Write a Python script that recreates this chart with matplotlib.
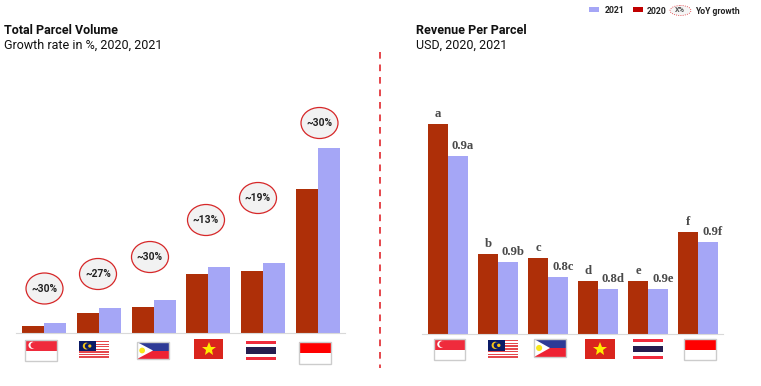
import matplotlib
matplotlib.use('Agg')
import matplotlib.pyplot as plt
from matplotlib.patches import Ellipse, Rectangle, Polygon, Circle

plt.rcParams['font.family'] = ['Roboto', 'DejaVu Sans']

# Data (bar heights in pixels of the reference)
flags = ['sg', 'my', 'ph', 'vn', 'th', 'id']
volume_2020 = [7, 20, 26, 59, 62, 144]
volume_2021 = [10, 25, 33, 66, 70, 185]
growth_labels = ['~30%', '~27%', '~30%', '~13%', '~19%', '~30%']
revenue_2020 = [210, 80, 76, 53, 53, 102]
revenue_2021 = [178, 72, 57, 45, 45, 92]
labels_2020 = ['a', 'b', 'c', 'd', 'e', 'f']
labels_2021 = ['0.9a', '0.9b', '0.8c', '0.8d', '0.9e', '0.9f']

# Layout of the annotations, in pixels
growth_centers = [(44.5, 288.5), (98, 274), (150, 257), (206, 220), (258, 198), (319.5, 123)]
left_flag_boxes = [(25, 340, 32, 21), (79, 341, 30, 18), (137, 342, 32, 17),
                   (194, 339, 29, 20), (246, 341, 30, 19), (299, 342, 32, 22)]
right_flag_boxes = [(434, 339, 31, 21), (488, 340, 30, 19), (534, 339, 32, 18),
                    (585, 339, 30, 20), (633, 339, 30, 20), (684, 339, 32, 21)]

W, H = 761, 386
COL_2020 = '#ae2f08'
COL_2021 = '#a5a6f6'
GREY_AXIS = '#d9d9d9'

fig = plt.figure(figsize=(W / 100, H / 100), dpi=100)


def make_axes(x0, x1, base, top):
    ax = fig.add_axes([x0 / W, 1 - base / H, (x1 - x0) / W, (base - top) / H])
    ax.set_ylim(0, base - top)
    for name in ['top', 'left', 'right']:
        ax.spines[name].set_visible(False)
    ax.spines['bottom'].set_color(GREY_AXIS)
    ax.set_xticks([])
    ax.set_yticks([])
    ax.patch.set_alpha(0)
    return ax


# Left chart
ax1 = make_axes(16, 345, 333, 60)
ax1.set_xlim((16 - 44) / 54.8, (345 - 44) / 54.8)
pos = list(range(len(flags)))
ax1.bar([p - 0.2 for p in pos], volume_2020, width=0.401, color=COL_2020)
ax1.bar([p + 0.2 for p in pos], volume_2021, width=0.401, color=COL_2021)

# Right chart
ax2 = make_axes(422, 723, 334, 60)
ax2.set_xlim((422 - 448) / 50, (723 - 448) / 50)
ax2.bar([p - 0.2 for p in pos], revenue_2020, width=0.4, color=COL_2020)
ax2.bar([p + 0.2 for p in pos], revenue_2021, width=0.4, color=COL_2021)
for p, v, t in zip(pos, revenue_2020, labels_2020):
    ax2.text(p - 0.2, v + 10, t, ha='center', va='center', fontsize=9.2,
             fontweight='bold', color='#4a4a4a', family='Liberation Serif')
for p, v, t in zip(pos, revenue_2021, labels_2021):
    ax2.text(p + 0.3, v + 10, t, ha='center', va='center', fontsize=9.2,
             fontweight='bold', color='#4a4a4a', family='Liberation Serif')

# Overlay in pixel coordinates for titles, legend, flags
ov = fig.add_axes([0, 0, 1, 1])
ov.set_xlim(0, W)
ov.set_ylim(H, 0)
ov.axis('off')
ov.patch.set_alpha(0)

ov.text(4, 31, 'Total Parcel Volume', fontsize=9.0, fontweight='bold', color='#111111', va='center')
ov.text(4, 45, 'Growth rate in %, 2020, 2021', fontsize=9.0, color='#111111', va='center')
ov.text(416, 31, 'Revenue Per Parcel', fontsize=9.0, fontweight='bold', color='#111111', va='center')
ov.text(416, 45, 'USD, 2020, 2021', fontsize=9.0, color='#111111', va='center')

ov.plot([380, 380], [52, 368], color='#e0282e', lw=1.2, dashes=(4, 3.5))

# Growth bubbles
for (cx, cy), t in zip(growth_centers, growth_labels):
    ov.add_patch(Ellipse((cx, cy), 37, 31, fc='#f2f2f2', ec='#d62728', lw=0.9, zorder=3))
    ov.text(cx, cy, t, ha='center', va='center', fontsize=7.4, fontweight='bold',
            color='#222222', zorder=4)

# Legend
ov.add_patch(Rectangle((589, 7), 10, 5, fc=COL_2021, ec='none'))
ov.text(605, 10.5, '2021', fontsize=6.2, fontweight='bold', color='#222222', va='center')
ov.add_patch(Rectangle((633, 7), 10, 5, fc='#c00000', ec='none'))
ov.text(647, 11, '2020', fontsize=6.2, fontweight='bold', color='#222222', va='center')
ov.add_patch(Ellipse((680.5, 10.5), 21, 10, fc='#f5f5f5', ec='#e0282e', lw=0.6, ls=':'))
ov.text(680, 10, 'X%', fontsize=5.2, fontweight='bold', color='#555555', ha='center', va='center')
ov.text(695, 11, 'YoY growth', fontsize=6.2, fontweight='bold', color='#222222', va='center')


def rect(x, y, w, h, c):
    ov.add_patch(Rectangle((x, y), w, h, fc=c, ec='none'))


def draw_flag(kind, x, y, w, h):
    border = kind in ('sg', 'ph', 'id')
    if kind == 'sg' or kind == 'id':
        top = '#ef2b3c' if kind == 'sg' else '#ff0000'
        rect(x, y, w, h, 'white')
        rect(x, y, w, h / 2, top)
        if kind == 'sg':
            ov.add_patch(Circle((x + w * 0.22, y + h * 0.25), h * 0.17, fc='white', ec='none'))
            ov.add_patch(Circle((x + w * 0.27, y + h * 0.25), h * 0.15, fc=top, ec='none'))
    elif kind == 'my':
        n = 14
        for i in range(n):
            rect(x, y + i * h / n, w, h / n, '#e5484d' if i % 2 == 0 else 'white')
        rect(x, y, w * 0.57, h * 0.57, '#0a1a66')
        ov.add_patch(Circle((x + w * 0.24, y + h * 0.28), h * 0.19, fc='#f5c518', ec='none'))
        ov.add_patch(Circle((x + w * 0.29, y + h * 0.28), h * 0.16, fc='#0a1a66', ec='none'))
        ov.add_patch(Circle((x + w * 0.36, y + h * 0.28), h * 0.09, fc='#f5c518', ec='none'))
    elif kind == 'ph':
        rect(x, y, w, h / 2, '#2e3a96')
        rect(x, y + h / 2, w, h / 2, '#ee2233')
        ov.add_patch(Polygon([(x, y), (x + w * 0.5, y + h / 2), (x, y + h)], fc='white', ec='none'))
        ov.add_patch(Circle((x + w * 0.16, y + h / 2), h * 0.17, fc='#f8e71c', ec='none'))
    elif kind == 'vn':
        rect(x, y, w, h, '#da251d')
        ov.plot([x + w / 2], [y + h / 2], marker='*', ms=10, color='#ffec00', mew=0)
    elif kind == 'th':
        rect(x, y, w, h, 'white')
        rect(x, y, w, h * 0.16, '#ef2b3c')
        rect(x, y + h * 0.84, w, h * 0.16, '#ef2b3c')
        rect(x, y + h * 0.33, w, h * 0.34, '#241d4f')
    if border:
        ov.add_patch(Rectangle((x, y), w, h, fc='none', ec='#cccccc', lw=1))


for kind, box in zip(flags + flags, left_flag_boxes + right_flag_boxes):
    draw_flag(kind, *box)

fig.savefig('out.png', dpi=100)
